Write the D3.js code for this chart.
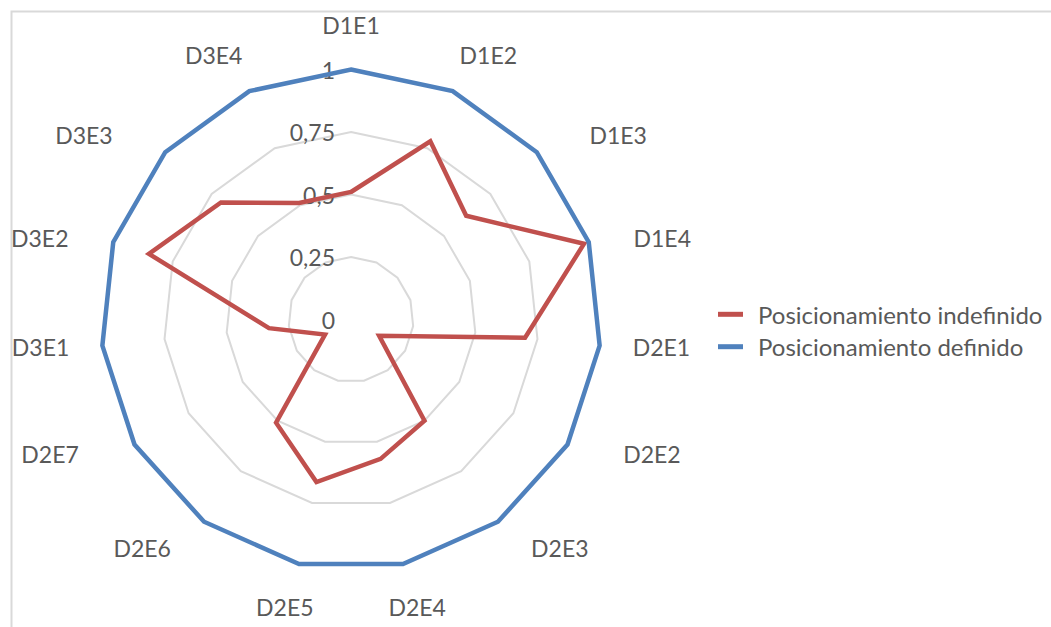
<!DOCTYPE html>
<html>
<head>
<meta charset="utf-8">
<script src="https://cdn.jsdelivr.net/npm/d3@7/dist/d3.min.js"></script>
<style>
  html, body { margin: 0; padding: 0; background: #fff; }
  svg { display: block; }
  text { font-family: Lato, "Open Sans", sans-serif; fill: #595959; }
</style>
</head>
<body>
<svg id="chart" width="1051" height="627"></svg>
<script>
const categories = ["D1E1","D1E2","D1E3","D1E4","D2E1","D2E2","D2E3","D2E4","D2E5","D2E6","D2E7","D3E1","D3E2","D3E3","D3E4"];
const indefinido = [0.51, 0.78, 0.62, 0.98, 0.70, 0.13, 0.50, 0.57, 0.665, 0.51, 0.12, 0.33, 0.85, 0.70, 0.51];
const definido   = [1, 1, 1, 1, 1, 1, 1, 1, 1, 1, 1, 1, 1, 1, 1];
const tickValues = [0, 0.25, 0.5, 0.75, 1];
const tickLabels = ["0", "0,25", "0,5", "0,75", "1"];
const seriesNames = ["Posicionamiento indefinido", "Posicionamiento definido"];
const seriesColors = ["#c0504d", "#4f81bd"];

const W = 1051, H = 627;
const cx = 351, cy = 319.5, R = 250;
const svg = d3.select("#chart");

// chart area border
svg.append("rect")
  .attr("x", 11.5).attr("y", 11.5)
  .attr("width", 1200).attr("height", 800)
  .attr("fill", "none").attr("stroke", "#d9d9d9").attr("stroke-width", 2);

const r = d3.scaleLinear().domain([0, 1]).range([0, R]);
const angle = d3.scaleLinear().domain([0, categories.length]).range([0, 2 * Math.PI]);

const g = svg.append("g").attr("transform", `translate(${cx},${cy})`);

const radial = d3.lineRadial()
  .angle((d, i) => angle(i))
  .radius(d => r(d))
  .curve(d3.curveLinearClosed);

// grid rings
g.selectAll(".ring")
  .data(tickValues.filter(v => v > 0))
  .join("path")
  .attr("class", "ring")
  .attr("d", v => radial(categories.map(() => v)))
  .attr("fill", "none")
  .attr("stroke", "#d9d9d9")
  .attr("stroke-width", 2);

// tick labels
g.selectAll(".tick")
  .data(tickValues)
  .join("text")
  .attr("class", "tick")
  .attr("x", -16)
  .attr("y", v => -r(v))
  .attr("text-anchor", "end")
  .attr("dominant-baseline", "central")
  .style("font-size", "23px")
  .text((v, i) => tickLabels[i]);

// series
const series = [indefinido, definido];
g.selectAll(".series")
  .data(series)
  .join("path")
  .attr("class", "series")
  .attr("d", d => radial(d))
  .attr("fill", "none")
  .attr("stroke", (d, i) => seriesColors[i])
  .attr("stroke-width", 4.5)
  .attr("stroke-linejoin", "miter");

// category labels: placed around the outer ring, pushed horizontally for label width
const labelX = t => Math.sin(t) * (R + 60 + 50 * Math.pow(Math.sin(2 * t), 2));
const labelY = t => -Math.cos(t) * (R + 45 - 36 * Math.pow(Math.sin(t), 2));
g.selectAll(".cat")
  .data(categories)
  .join("text")
  .attr("class", "cat")
  .attr("x", (d, i) => labelX(angle(i)))
  .attr("y", (d, i) => labelY(angle(i)))
  .attr("text-anchor", "middle")
  .attr("dominant-baseline", "central")
  .style("font-size", "23px")
  .text(d => d);

// legend
const legend = svg.append("g").attr("transform", "translate(718,314.3)");
const items = legend.selectAll(".li")
  .data(seriesNames)
  .join("g")
  .attr("class", "li")
  .attr("transform", (d, i) => `translate(0,${i * 32.4})`);
items.append("line")
  .attr("x1", 0).attr("x2", 25)
  .attr("y1", 0).attr("y2", 0)
  .attr("stroke", (d, i) => seriesColors[i])
  .attr("stroke-width", 5);
items.append("text")
  .attr("x", 40).attr("y", 0)
  .attr("dominant-baseline", "central")
  .style("font-size", "24px")
  .text(d => d);
</script>
</body>
</html>
